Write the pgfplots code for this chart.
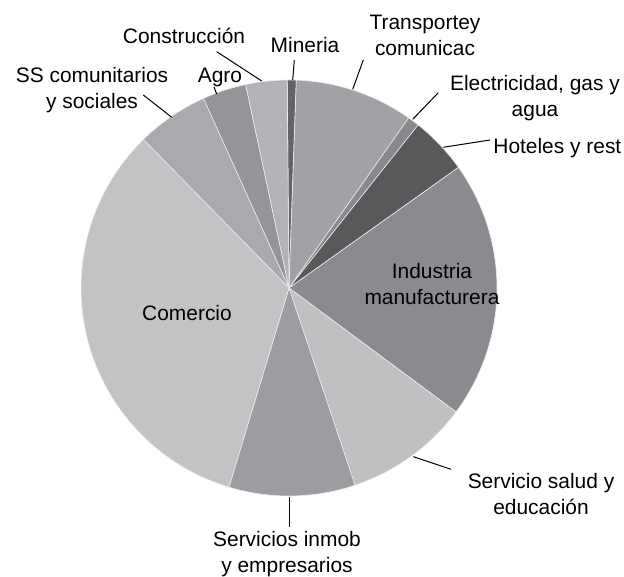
\documentclass[border=0pt]{standalone}
\usepackage{fontspec}
\setmainfont{Liberation Sans}
\usepackage{pgfplots}
\pgfplotsset{compat=1.18}

% slice shades
\definecolor{cMin}{HTML}{636466}
\definecolor{cTra}{HTML}{A1A2A5}
\definecolor{cEle}{HTML}{88898C}
\definecolor{cHot}{HTML}{58595B}
\definecolor{cInd}{HTML}{8A8B8E}
\definecolor{cSal}{HTML}{BFC0C2}
\definecolor{cInm}{HTML}{9C9DA0}
\definecolor{cCom}{HTML}{C2C3C5}
\definecolor{cSS}{HTML}{A9AAAD}
\definecolor{cAgr}{HTML}{949598}
\definecolor{cCon}{HTML}{B2B3B6}

\tikzset{lbl/.style={font=\fontsize{10.5}{13}\selectfont, align=center, inner sep=0pt}}

\begin{document}
\begin{tikzpicture}
\begin{axis}[
  hide axis,
  x=0.5bp, y=0.5bp,
  xmin=0, xmax=624, ymin=-574, ymax=0,
  clip=false,
]
\path (axis cs:0,0) rectangle (axis cs:624,-574);
% shares in percent, clockwise from just left of 12 o'clock
\def\cum{-0.14}
\foreach \v/\c in {0.7/cMin, 9.2/cTra, 0.9/cEle, 4.5/cHot, 20.0/cInd, 9.7/cSal,
                   9.8/cInm, 33.0/cCom, 5.6/cSS, 3.4/cAgr, 3.2/cCon} {
  \pgfmathsetmacro\a{\cum*3.6}
  \pgfmathsetmacro\b{(\cum+\v)*3.6}
  \edef\temp{\noexpand\addplot[fill=\c, draw=white!85!gray, line width=0.3pt,
    domain=\a:\b, samples=60, smooth]
    ({289+208*sin(x)},{-288+208*cos(x)}) -- (axis cs:289,-288) -- cycle;}
  \temp
  \pgfmathsetmacro\newcum{\cum+\v}
  \global\let\cum\newcum
}

% leader lines
\draw[line width=0.5bp] (axis cs:216.7,-51.7) -- (axis cs:261.7,-81);
\draw[line width=0.5bp] (axis cs:294.3,-60) -- (axis cs:292.7,-80);
\draw[line width=0.5bp] (axis cs:363.3,-60) -- (axis cs:352.7,-89.3);
\draw[line width=0.5bp] (axis cs:438.3,-92.7) -- (axis cs:412.7,-119.3);
\draw[line width=0.5bp] (axis cs:490,-140) -- (axis cs:443.3,-147.3);
\draw[line width=0.5bp] (axis cs:413.3,-456.7) -- (axis cs:451,-469.3);
\draw[line width=0.5bp] (axis cs:289.3,-496.7) -- (axis cs:289.3,-526.7);
\draw[line width=0.5bp] (axis cs:143.3,-95) -- (axis cs:171.7,-117.3);
\draw[line width=0.5bp] (axis cs:214,-87) -- (axis cs:216.7,-94);

% labels
\node[lbl] at (axis cs:184,-36) {Construcción};
\node[lbl] at (axis cs:305,-45) {Mineria};
\node[lbl] at (axis cs:425,-35) {Transportey\\comunicac};
\node[lbl] at (axis cs:535,-98) {Electricidad, gas y\\agua};
\node[lbl, anchor=west] at (axis cs:493,-148) {Hoteles y rest};
\node[lbl] at (axis cs:432,-284) {Industria\\manufacturera};
\node[lbl] at (axis cs:187,-313) {Comercio};
\node[lbl] at (axis cs:541,-494) {Servicio salud y\\educación};
\node[lbl] at (axis cs:287,-554) {Servicios inmob\\y empresarios};
\node[lbl] at (axis cs:92,-90) {SS comunitarios\\y sociales};
\node[lbl] at (axis cs:220,-77) {Agro};
\end{axis}
\end{tikzpicture}
\end{document}
